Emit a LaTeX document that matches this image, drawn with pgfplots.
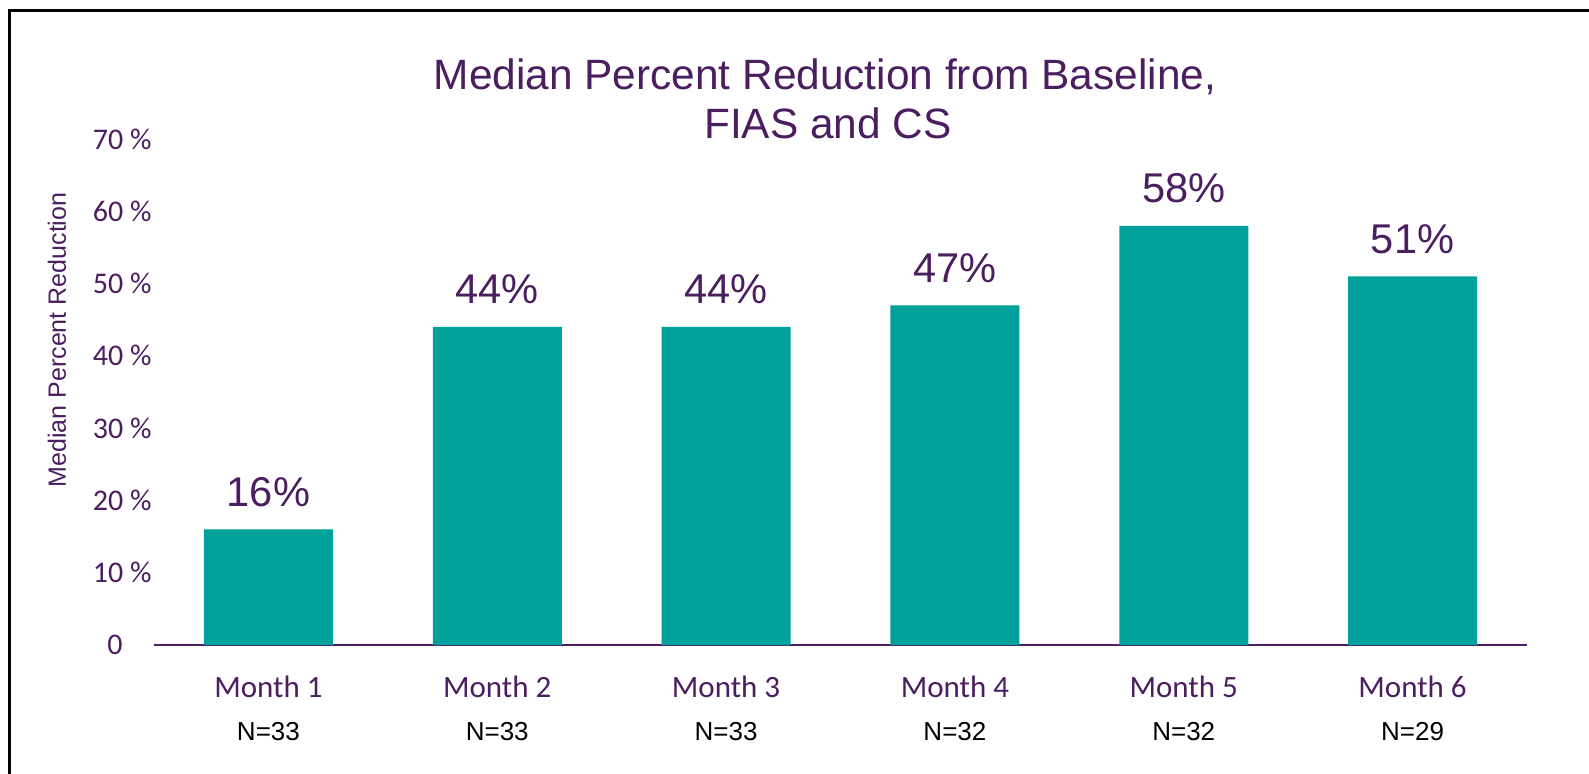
\documentclass[border=0pt]{standalone}
\usepackage{pgfplots}
\pgfplotsset{compat=1.18}
\usepackage{fontspec}
\setmainfont{Carlito}
\newfontfamily\arialf{Liberation Sans}
\definecolor{ttl}{HTML}{4A1E5F}
\definecolor{tealbar}{HTML}{00A19A}
\begin{document}
\begin{tikzpicture}
\useasboundingbox (0,0) rectangle (794.5bp,-387bp);
\draw[line width=1.5bp] (4.75bp,-387bp) -- (4.75bp,-5.25bp) -- (794.5bp,-5.25bp);
\node[anchor=base, text=ttl, font=\arialf\fontsize{21.2bp}{24bp}\selectfont] at (412.5bp,-44.5bp) {Median Percent Reduction from Baseline,};
\node[anchor=base, text=ttl, font=\arialf\fontsize{21.2bp}{24bp}\selectfont] at (414bp,-69bp) {FIAS and CS};
\begin{axis}[
  at={(77bp,-322.5bp)}, anchor=south west,
  scale only axis, width=686.5bp, height=253bp,
  xmin=-0.5, xmax=5.5, ymin=0, ymax=70,
  ybar, bar width=64.5bp,
  axis x line=bottom, axis y line=left,
  x axis line style={-, draw=ttl, line width=1bp},
  y axis line style={draw=none},
  major tick length=0pt,
  xtick={0,...,5},
  xticklabels={Month 1,Month 2,Month 3,Month 4,Month 5,Month 6},
  ytick={0,10,...,70},
  yticklabels={0\kern14.5bp\relax,10 \%,20 \%,30 \%,40 \%,50 \%,60 \%,70 \%},
  tick label style={text=ttl},
  xticklabel style={font=\fontsize{15.5bp}{18bp}\selectfont, anchor=base, yshift=-26bp, inner sep=0pt},
  yticklabel style={font=\fontsize{15bp}{18bp}\selectfont, anchor=east, inner sep=0pt, xshift=-1bp},
  extra x ticks={0,...,5},
  extra x tick labels={N=33,N=33,N=33,N=32,N=32,N=29},
  extra x tick style={xticklabel style={font=\arialf\fontsize{13bp}{15bp}\selectfont, text=black, yshift=-21.5bp}},
  ylabel={Median Percent Reduction},
  ylabel style={font=\arialf\fontsize{12.5bp}{15bp}\selectfont, text=ttl, at={(rel axis cs:-0.0707,0.603)}, anchor=center},
  nodes near coords={\pgfmathprintnumber[assume math mode=true]{\pgfplotspointmeta}\%},
  every node near coord/.append style={font=\arialf\fontsize{20.8bp}{24bp}\selectfont, text=ttl, anchor=base, yshift=11.5bp, inner sep=0pt},
  clip=false,
]
\addplot[fill=tealbar, draw=none] coordinates {(0,16) (1,44) (2,44) (3,47) (4,58) (5,51)};
\end{axis}
\end{tikzpicture}
\end{document}
